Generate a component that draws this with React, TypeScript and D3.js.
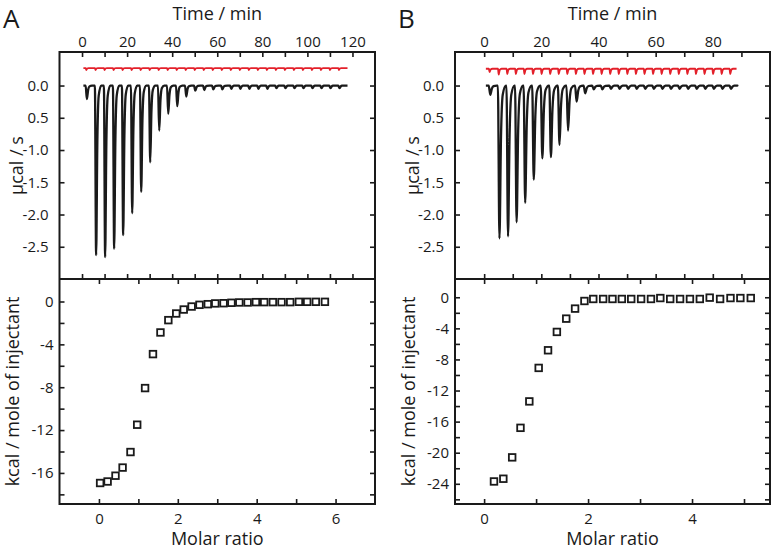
import { useEffect, useRef } from 'react';
import * as d3 from 'd3';

// ---- panel A : raw thermogram (injection time in min, peak minimum in ucal/s)
const injTimesA = [1.7, 5.8, 9.8, 13.8, 17.8, 21.8, 25.8, 29.8, 33.8, 37.8, 41.8, 45.8, 49.8, 53.8, 57.8,
  61.8, 65.8, 69.8, 73.8, 77.8, 81.8, 85.8, 89.8, 93.8, 97.8, 101.8, 105.8, 109.8, 113.8];
const peaksA = [-0.21, -2.63, -2.66, -2.53, -2.32, -1.98, -1.65, -1.19, -0.70, -0.44, -0.32, -0.17, -0.08, -0.07,
  -0.06, -0.06, -0.05, -0.05, -0.05, -0.05, -0.05, -0.04, -0.04, -0.04, -0.04, -0.04, -0.04, -0.04, -0.04];
const refDipsA = [-0.03, -0.03, -0.03, -0.03, -0.03, -0.03, -0.03, -0.03, -0.03, -0.03, -0.03, -0.03, -0.03, -0.03,
  -0.03, -0.03, -0.03, -0.03, -0.03, -0.03, -0.03, -0.03, -0.03, -0.03, -0.03, -0.03, -0.03, -0.03, -0.03];
// integrated heats A
const molarA = [0.03, 0.22, 0.42, 0.60, 0.80, 0.97, 1.17, 1.37, 1.56, 1.76, 1.96, 2.15, 2.35, 2.55, 2.76,
  2.95, 3.16, 3.36, 3.56, 3.77, 3.98, 4.19, 4.41, 4.63, 4.85, 5.07, 5.28, 5.50, 5.73];
const heatA = [-16.94, -16.8, -16.26, -15.5, -14.05, -11.5, -8.08, -4.91, -2.89, -1.74, -1.12, -0.75, -0.47, -0.31, -0.25,
  -0.18, -0.16, -0.12, -0.09, -0.09, -0.06, -0.06, -0.06, -0.06, -0.06, -0.03, -0.03, -0.03, -0.03];

// ---- panel B : raw thermogram
const injTimesB = [1.7, 4.9, 7.9, 10.9, 13.9, 16.9, 19.9, 22.9, 25.9, 28.9, 31.9, 34.9, 37.9, 40.9, 43.9,
  46.9, 49.9, 52.9, 55.9, 58.9, 61.9, 64.9, 67.9, 70.9, 73.9, 76.9, 79.9, 82.9, 85.9];
const peaksB = [-0.145, -2.37, -2.34, -2.12, -1.82, -1.46, -1.13, -1.11, -0.92, -0.70, -0.25, -0.12, -0.06, -0.06,
  -0.05, -0.05, -0.05, -0.05, -0.05, -0.05, -0.05, -0.05, -0.05, -0.05, -0.05, -0.05, -0.05, -0.05, -0.05];
const refDipsB = [-0.05, -0.09, -0.08, -0.08, -0.08, -0.08, -0.08, -0.08, -0.08, -0.08, -0.08, -0.08, -0.08, -0.08,
  -0.08, -0.08, -0.08, -0.08, -0.08, -0.08, -0.08, -0.08, -0.08, -0.08, -0.08, -0.08, -0.08, -0.08, -0.08];
// integrated heats B
const molarB = [0.19, 0.37, 0.54, 0.70, 0.87, 1.05, 1.23, 1.40, 1.58, 1.75, 1.93, 2.10, 2.29, 2.47, 2.65,
  2.83, 3.02, 3.21, 3.39, 3.58, 3.77, 3.96, 4.15, 4.34, 4.54, 4.74, 4.93, 5.13];
const heatB = [-23.7, -23.35, -20.6, -16.8, -13.4, -9.09, -6.82, -4.46, -2.75, -1.46, -0.48, -0.22, -0.22, -0.22,
  -0.22, -0.22, -0.22, -0.22, -0.1, -0.22, -0.22, -0.22, -0.22, -0.05, -0.22, -0.1, -0.1, -0.1];

// tick labels
const timeLabelsA = [0, 20, 40, 60, 80, 100, 120];
const timeLabelsB = [0, 20, 40, 60, 80];
const powerTicks = [0, -0.5, -1, -1.5, -2, -2.5];
const powerLabels = ['0.0', '0.5', '-1.0', '-1.5', '-2.0', '-2.5'];
const molarLabelsA = [0, 2, 4, 6];
const molarLabelsB = [0, 2, 4];
const heatLabelsA = [0, -4, -8, -12, -16];
const heatLabelsB = [0, -4, -8, -12, -16, -20, -24];

// shape of one injection peak (min after injection, fraction of peak depth)
const peakOffsets = [-0.1, 0.45, 1.0, 1.6, 2.7];
const peakFracs = [0, 1, 0.33, 0.06, 0];
// reference cell dips are sharper
const refOffsets = [-0.05, 0.2, 0.55, 1.2];
const refFracs = [0, 1, 0.2, 0];

const FONT = '"Open Sans", sans-serif';
const INK = '#1a1a1a';
const RED = '#e3202a';

const TOP = 52, MID = 279, BOT = 504;

const App = () => {
  const svgRef = useRef(null);

  useEffect(() => {
    const svg = d3.select(svgRef.current);
    svg.selectAll('*').remove();

    const fmt = (d) => String(d).replace('\u2212', '-');

    const styleAxis = (g, size = 15) => {
      g.select('.domain').remove();
      g.selectAll('line').attr('stroke', INK).attr('stroke-width', 1.6);
      g.selectAll('text').style('font-family', FONT).style('font-size', size + 'px').attr('fill', INK);
    };

    const trace = (times, depths, base, t0, t1, offs, fracs) => {
      const pts = [[t0, base]];
      times.forEach((t, i) => {
        offs.forEach((o, j) => pts.push([t + o, base + depths[i] * fracs[j]]));
      });
      pts.push([t1, base]);
      return pts;
    };

    const panel = (cfg) => {
      const { left, right, letter, letterX, tDomain, tEnd, times, peaks, refDips, refBase,
        timeLabels, mDomain, molar, heat, hDomain, molarLabels, heatLabels,
        upPad, lowPad, yTitleX1, yTitleX2 } = cfg;

      const g = svg.append('g');
      const xT = d3.scaleLinear().domain(tDomain).range([left, right]);
      const yP = d3.scaleLinear().domain([-3.0, 0.52]).range([MID, TOP]);
      const xM = d3.scaleLinear().domain(mDomain).range([left, right]);
      const yH = d3.scaleLinear().domain(hDomain).range([BOT, MID]);

      // thermogram traces
      const lineT = d3.line().x(d => xT(d[0])).y(d => yP(d[1])).curve(d3.curveMonotoneX);
      g.append('path')
        .attr('d', lineT(trace(times, refDips, refBase, 0.6, tEnd, refOffsets, refFracs)))
        .attr('fill', 'none').attr('stroke', RED).attr('stroke-width', 1.9);
      g.append('path')
        .attr('d', lineT(trace(times, peaks, 0, 0.6, tEnd, peakOffsets, peakFracs)))
        .attr('fill', 'none').attr('stroke', INK).attr('stroke-width', 2.3)
        .attr('stroke-linejoin', 'round');

      // integrated heats
      g.append('g').selectAll('rect')
        .data(molar.map((m, i) => [m, heat[i]]))
        .enter().append('rect')
        .attr('x', d => xM(d[0]) - 3.3)
        .attr('y', d => yH(d[1]) - 3.3)
        .attr('width', 6.6).attr('height', 6.6)
        .attr('fill', 'white').attr('stroke', INK).attr('stroke-width', 1.8);

      // axes, all ticks pointing inward
      const tTicks = d3.range(0, tDomain[1], 10);
      g.append('g').attr('transform', `translate(0,${TOP})`)
        .call(d3.axisTop(xT).tickValues(tTicks).tickSizeInner(-5).tickSizeOuter(0).tickPadding(5)
          .tickFormat(d => timeLabels.includes(d) ? fmt(d) : ''))
        .call(styleAxis);
      g.append('g').attr('transform', `translate(0,${MID})`)
        .call(d3.axisBottom(xT).tickValues(tTicks).tickSizeInner(-5).tickSizeOuter(0).tickFormat(() => ''))
        .call(styleAxis);
      g.append('g').attr('transform', `translate(${left},0)`)
        .call(d3.axisLeft(yP).tickValues(powerTicks).tickSizeInner(-5).tickSizeOuter(0).tickPadding(upPad)
          .tickFormat((d, i) => powerLabels[i]))
        .call(styleAxis);
      g.append('g').attr('transform', `translate(${right},0)`)
        .call(d3.axisRight(yP).tickValues(powerTicks).tickSizeInner(-5).tickSizeOuter(0).tickFormat(() => ''))
        .call(styleAxis);

      const mTicks = d3.range(0, Math.floor(mDomain[1]) + 1, 1).filter(d => xM(d) < right - 4);
      const hTicks = d3.range(Math.ceil(hDomain[0] / 2) * 2, 1, 2);
      g.append('g').attr('transform', `translate(0,${MID})`)
        .call(d3.axisTop(xM).tickValues(mTicks).tickSizeInner(-5).tickSizeOuter(0).tickFormat(() => ''))
        .call(styleAxis);
      g.append('g').attr('transform', `translate(0,${BOT})`)
        .call(d3.axisBottom(xM).tickValues(mTicks).tickSizeInner(-5).tickSizeOuter(0).tickPadding(9)
          .tickFormat(d => molarLabels.includes(d) ? fmt(d) : ''))
        .call(styleAxis);
      g.append('g').attr('transform', `translate(${left},0)`)
        .call(d3.axisLeft(yH).tickValues(hTicks).tickSizeInner(-5).tickSizeOuter(0).tickPadding(lowPad)
          .tickFormat(d => heatLabels.includes(d) ? fmt(d) : ''))
        .call(styleAxis);
      g.append('g').attr('transform', `translate(${right},0)`)
        .call(d3.axisRight(yH).tickValues(hTicks).tickSizeInner(-5).tickSizeOuter(0).tickFormat(() => ''))
        .call(styleAxis);

      // frames
      g.append('rect').attr('x', left).attr('y', TOP).attr('width', right - left).attr('height', BOT - TOP)
        .attr('fill', 'none').attr('stroke', INK).attr('stroke-width', 2);
      g.append('line').attr('x1', left).attr('x2', right).attr('y1', MID).attr('y2', MID)
        .attr('stroke', INK).attr('stroke-width', 2);

      // titles
      const cx = (left + right) / 2;
      const title = (x, y, txt, rot) => g.append('text')
        .attr('transform', `translate(${x},${y})${rot ? ' rotate(-90)' : ''}`)
        .attr('text-anchor', 'middle')
        .style('font-family', FONT).style('font-size', '18px').attr('fill', INK)
        .text(txt);
      title(cx, 20, 'Time / min');
      title(cx, 545, 'Molar ratio');
      title(yTitleX1, (TOP + MID) / 2, 'µcal / s', true);
      title(yTitleX2, (MID + BOT) / 2, 'kcal / mole of injectant', true);

      g.append('text').attr('x', letterX).attr('y', 28)
        .style('font-family', FONT).style('font-size', '26px').attr('fill', INK)
        .text(letter);
    };

    panel({
      left: 59.5, right: 375, letter: 'A', letterX: 3,
      tDomain: [-10, 130], tEnd: 117.8, times: injTimesA, peaks: peaksA, refDips: refDipsA, refBase: 0.27,
      timeLabels: timeLabelsA, mDomain: [-1, 7], molar: molarA, heat: heatA, hDomain: [-18.9, 2.1],
      molarLabels: molarLabelsA, heatLabels: heatLabelsA, upPad: 11, lowPad: 6, yTitleX1: 23, yTitleX2: 19,
    });
    panel({
      left: 455, right: 770, letter: 'B', letterX: 398,
      tDomain: [-10.2, 100], tEnd: 88.3, times: injTimesB, peaks: peaksB, refDips: refDipsB, refBase: 0.26,
      timeLabels: timeLabelsB, mDomain: [-0.56, 5.5], molar: molarB, heat: heatB, hDomain: [-26.6, 2.35],
      molarLabels: molarLabelsB, heatLabels: heatLabelsB, upPad: 11, lowPad: 6, yTitleX1: 419, yTitleX2: 415,
    });
  }, []);

  return (
    <svg ref={svgRef} width={774} height={550}
      style={{ position: 'absolute', left: 0, top: 0, background: 'white' }} />
  );
};

export default App;
